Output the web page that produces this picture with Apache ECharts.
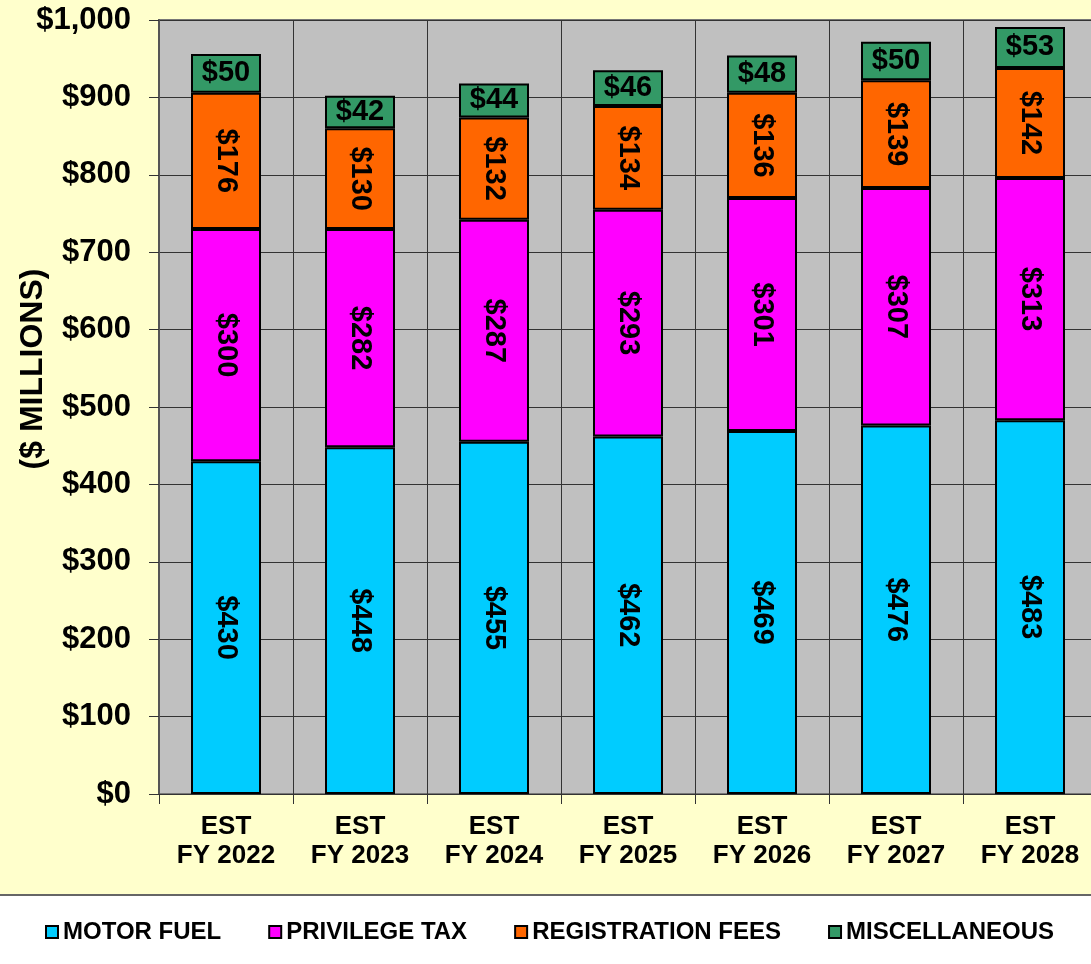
<!DOCTYPE html>
<html>
<head>
<meta charset="utf-8">
<script src="https://cdn.jsdelivr.net/npm/echarts@6/dist/echarts.min.js"></script>
<style>
  html, body { margin: 0; padding: 0; overflow: hidden; }
  #wrap {
    width: 1091px; height: 964px; overflow: hidden;
    background: linear-gradient(#FFFFCC 0, #FFFFCC 894px, #666 894px, #666 896px, #fff 896px);
  }
  #chart { width: 1100px; height: 964px; }
</style>
</head>
<body>
<div id="wrap"><div id="chart"></div></div>
<script>
const categories = ["EST\nFY 2022", "EST\nFY 2023", "EST\nFY 2024", "EST\nFY 2025", "EST\nFY 2026", "EST\nFY 2027", "EST\nFY 2028"];
const motorFuel = [430, 448, 455, 462, 469, 476, 483];
const privilegeTax = [300, 282, 287, 293, 301, 307, 313];
const registrationFees = [176, 130, 132, 134, 136, 139, 142];
const miscellaneous = [50, 42, 44, 46, 48, 50, 53];

const font = "'Liberation Sans', Arial, sans-serif";

const chart = echarts.init(document.getElementById("chart"));

function stackSeries(name, data, color, rotate) {
  return {
    type: "bar",
    name: name,
    stack: "total",
    data: data,
    barWidth: 70,
    itemStyle: { color: color, borderColor: "#000", borderWidth: 2 },
    label: {
      show: true,
      position: "inside",
      rotate: rotate,
      formatter: "${c}",
      color: "#000",
      fontFamily: font,
      fontWeight: "bold",
      fontSize: 29,
    },
  };
}

chart.setOption({
  backgroundColor: "transparent",
  animation: false,
  grid: {
    left: 159,
    right: 3,
    top: 20,
    bottom: 170,
    outerBoundsMode: "none",
    show: true,
    backgroundColor: "#C0C0C0",
    borderColor: "#777",
    borderWidth: 2,
  },
  legend: {
    top: 920,
    left: 45,
    padding: 0,
    itemWidth: 12,
    itemHeight: 12,
    itemGap: 47,
    icon: "rect",
    textStyle: { fontFamily: font, fontWeight: "bold", fontSize: 24, color: "#000" },
  },
  xAxis: {
    type: "category",
    data: categories,
    axisLine: { show: true, lineStyle: { color: "#333", width: 1 } },
    axisTick: { show: true, length: 10, lineStyle: { color: "#333" } },
    splitLine: { show: true, lineStyle: { color: "#333", width: 1 } },
    axisLabel: {
      margin: 18,
      color: "#000",
      fontFamily: font,
      fontWeight: "bold",
      fontSize: 26,
      lineHeight: 29,
    },
  },
  yAxis: {
    type: "value",
    min: 0,
    max: 1000,
    interval: 100,
    name: "($ MILLIONS)",
    nameLocation: "middle",
    nameRotate: 90,
    nameGap: 110,
    nameMoveOverlap: false,
    nameTextStyle: { fontFamily: font, fontWeight: "bold", fontSize: 32, color: "#000", padding: [0, 0, 0, 76] },
    axisLine: { show: true, lineStyle: { color: "#555", width: 2 } },
    axisTick: { show: true, length: 10, lineStyle: { color: "#333" } },
    splitLine: { show: true, lineStyle: { color: "#333", width: 1 } },
    axisLabel: {
      margin: 28,
      color: "#000",
      fontFamily: font,
      fontWeight: "bold",
      fontSize: 31,
      formatter: (v) => "$" + v.toLocaleString("en-US"),
    },
  },
  series: [
    stackSeries("MOTOR FUEL", motorFuel, "#00CCFF", -90),
    stackSeries("PRIVILEGE TAX", privilegeTax, "#FF00FF", -90),
    stackSeries("REGISTRATION FEES", registrationFees, "#FF6600", -90),
    stackSeries("MISCELLANEOUS", miscellaneous, "#339966", 0),
  ],
});
</script>
</body>
</html>
